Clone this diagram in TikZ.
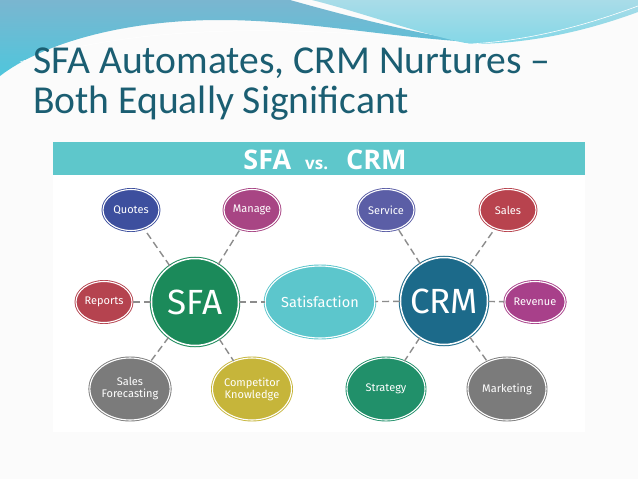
\documentclass[tikz,border=0pt]{standalone}
\usepackage{fontspec}
\setmainfont{Carlito}
\newfontfamily\nodefont{Fira Sans}
\newfontfamily\barfont{Open Sans}
\usetikzlibrary{shapes.geometric,positioning}

\definecolor{titleteal}{HTML}{1B5E72}
\definecolor{barteal}{HTML}{5EC7CB}
\definecolor{linkgray}{HTML}{8C8C8C}
\definecolor{quotescol}{HTML}{3D4F9E}
\definecolor{managecol}{HTML}{A84584}
\definecolor{reportscol}{HTML}{B5434F}
\definecolor{sfacol}{HTML}{1B8A5A}
\definecolor{satcol}{HTML}{5CC6CC}
\definecolor{crmcol}{HTML}{1C6A8A}
\definecolor{servicecol}{HTML}{5B5EA6}
\definecolor{salescol}{HTML}{B8434E}
\definecolor{revenuecol}{HTML}{A8408A}
\definecolor{strategycol}{HTML}{21906A}
\definecolor{graycol}{HTML}{7B7B7B}
\definecolor{compcol}{HTML}{C6B53A}
\definecolor{wavedark}{HTML}{7AB6D0}
\definecolor{wavecyan}{HTML}{4FC6DC}
\definecolor{wavelight}{HTML}{A9DCE8}
\definecolor{slidegray}{HTML}{FBFBFB}

\begin{document}
\begin{tikzpicture}[x=1pt, y=-1pt,
  bubble/.style={ellipse, draw=#1, fill=#1, double=white, double distance=1.1pt,
    line width=0.9pt, inner sep=0pt, text=white, align=center,
    font=\nodefont\fontsize{11}{12}\selectfont,
    minimum width=56pt, minimum height=41pt},
  bigbubble/.style={bubble=#1, minimum width=78pt, minimum height=62pt},
  hub/.style={circle, draw=#1, fill=#1, double=white, double distance=1.5pt,
    line width=1pt, inner sep=0pt, minimum size=87pt, text=white,
    font=\nodefont\fontsize{35}{37}\selectfont},
  link/.style={draw=linkgray, dash pattern=on 7pt off 4pt, line width=1.4pt},
  titletext/.style={anchor=base west, inner sep=0pt, text=titleteal,
    font=\fontsize{39.6}{42}\selectfont}
]
\useasboundingbox (0,0) rectangle (638,479);
\fill[slidegray] (0,0) rectangle (638,479);
\fill[white] (53,142) rectangle (585,432);

% top swoosh
\shade[top color=wavedark, bottom color=wavecyan]
  (0,0) -- (290,0) .. controls (340,14) and (400,30) .. (470,42)
  .. controls (380,36) and (300,20) .. (220,20)
  .. controls (120,20) and (40,45) .. (0,76) -- cycle;
\shade[top color=wavelight, bottom color=wavecyan!70!white]
  (312,0) -- (638,0) -- (638,12) .. controls (600,26) and (540,44) .. (470,44)
  .. controls (420,34) and (360,12) .. (312,0) -- cycle;
\draw[white, line width=0.6pt] (470,44) .. controls (540,40) and (600,20) .. (638,6);
\draw[white, line width=0.5pt] (20,62) .. controls (120,30) and (260,20) .. (470,44);

% title
\node[titletext] (title1) at (33,73) {SFA Automates, CRM Nurtures –};
\node[titletext] (title2) at (33,113) {Both Equally Significant};

% header bar
\fill[barteal] (53,142) rectangle (585,175);
\node[text=white, font=\barfont\bfseries] (header) at (325,160)
  {\fontsize{27}{30}\selectfont SFA\hspace{14pt}\fontsize{17}{20}\selectfont vs.%
   \hspace{18pt}\fontsize{27}{30}\selectfont CRM};

% hubs
\node[hub=sfacol] (sfa) at (195,302) {SFA};
\node[hub=crmcol] (crm) at (444,301) {CRM};
\node[bubble=satcol, minimum width=95pt, minimum height=72pt,
  font=\nodefont\fontsize{14.5}{16}\selectfont] (sat) at (320,302) {Satisfaction};

% SFA side
\node[bubble=quotescol] (quotes) at (131,210) {Quotes};
\node[bubble=managecol] (manage) at (252,210) {Manage};
\node[bubble=reportscol] (reports) at (104,302) {Reports};
\node[bigbubble=graycol] (forecast) at (130,389) {Sales\\Forecasting};
\node[bigbubble=compcol] (competitor) at (252,389) {Competitor\\Knowledge};

% CRM side
\node[bubble=servicecol] (service) at (386,210) {Service};
\node[bubble=salescol] (sales) at (508,210) {Sales};
\node[bubble=revenuecol] (revenue) at (535,302) {Revenue};
\node[bigbubble=strategycol] (strategy) at (386,389) {Strategy};
\node[bigbubble=graycol] (marketing) at (507,389) {Marketing};

\foreach \leaf in {quotes,manage,reports,forecast,competitor,sat}
  \draw[link] (sfa) -- (\leaf);
\foreach \leaf in {service,sales,revenue,strategy,marketing,sat}
  \draw[link] (crm) -- (\leaf);
\end{tikzpicture}
\end{document}
